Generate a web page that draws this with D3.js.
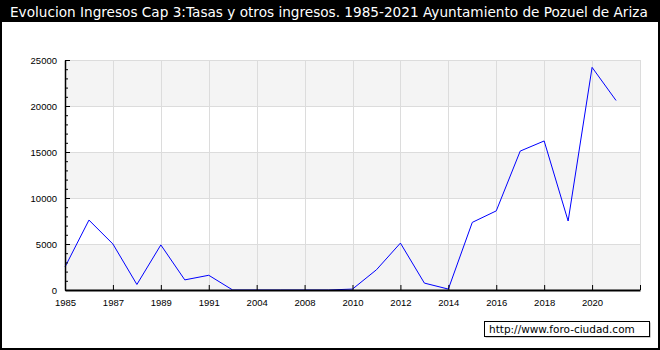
<!DOCTYPE html>
<html lang="es">
  <head>
    <meta charset="utf-8" />
    <title>Evolucion Ingresos Cap 3 - Pozuel de Ariza</title>
    <script src="https://d3js.org/d3.v7.min.js"></script>
    <style>
      body {
        margin: 0;
        background: #fff;
      }
      svg {
        display: block;
        font-family: "DejaVu Sans", Verdana, sans-serif;
      }
      .tick text {
        font-size: 9.5px;
        fill: #000;
      }
    </style>
  </head>
  <body>
    <svg id="chart" width="660" height="350"></svg>
    <script>
      // datos: ingresos capitulo 3 por año (euros)
      const years = [
        "1985", "1986", "1987", "1988", "1989", "1990", "1991", "1992",
        "2004", "2006", "2008", "2009", "2010", "2011", "2012", "2013",
        "2014", "2015", "2016", "2017", "2018", "2019", "2020", "2021",
      ];
      const values = [
        2500, 7600, 5000, 600, 4900, 1100, 1600, 0,
        0, 0, 0, 0, 100, 2200, 5100, 750,
        100, 7350, 8600, 15100, 16200, 7500, 24200, 20600,
      ];
      const yTicks = [0, 5000, 10000, 15000, 20000, 25000];

      const svg = d3.select("#chart"),
        width = +svg.attr("width"),
        height = +svg.attr("height");

      const plot = { left: 65, right: 640, top: 60, bottom: 290 };

      // una posicion vacia extra al final, como en el original
      const x = d3
        .scaleLinear()
        .domain([0, years.length])
        .range([plot.left, plot.right]);
      const y = d3
        .scaleLinear()
        .domain([0, 25000])
        .range([plot.bottom, plot.top]);

      // marco exterior
      svg
        .append("rect")
        .attr("x", 1)
        .attr("y", 1)
        .attr("width", width - 2)
        .attr("height", height - 2)
        .attr("fill", "#fff")
        .attr("stroke", "#000")
        .attr("stroke-width", 2);

      // banda del titulo
      svg
        .append("rect")
        .attr("x", 0)
        .attr("y", 0)
        .attr("width", width)
        .attr("height", 22)
        .attr("fill", "#000");
      const title = svg
        .append("text")
        .attr("x", 10)
        .attr("y", 17)
        .attr("fill", "#fff")
        .attr("font-size", 14)
        .text(
          "Evolucion Ingresos Cap 3:Tasas y otros ingresos. 1985-2021 Ayuntamiento de Pozuel de Ariza"
        );
      // ajustar el tamaño para que ocupe el ancho disponible
      const tw = title.node().getComputedTextLength();
      title.attr("font-size", Math.min(15, (14 * 638) / tw));

      // bandas alternas de fondo
      svg
        .append("g")
        .selectAll("rect")
        .data(d3.pairs(yTicks))
        .join("rect")
        .attr("x", plot.left)
        .attr("width", plot.right - plot.left)
        .attr("y", (d) => y(d[1]))
        .attr("height", (d) => y(d[0]) - y(d[1]))
        .attr("fill", (d, i) => (i % 2 === 0 ? "#f4f4f4" : "#fff"));

      // rejilla
      const xTickIdx = d3.range(0, years.length + 1, 2);
      const grid = svg.append("g").attr("stroke", "#dcdcdc").attr("stroke-width", 1);
      grid
        .selectAll("line.h")
        .data(yTicks.slice(1))
        .join("line")
        .attr("class", "h")
        .attr("x1", plot.left)
        .attr("x2", plot.right)
        .attr("y1", (d) => Math.round(y(d)) + 0.5)
        .attr("y2", (d) => Math.round(y(d)) + 0.5);
      grid
        .selectAll("line.v")
        .data(xTickIdx.slice(1))
        .join("line")
        .attr("class", "v")
        .attr("x1", (d) => Math.round(x(d)) + 0.5)
        .attr("x2", (d) => Math.round(x(d)) + 0.5)
        .attr("y1", plot.top)
        .attr("y2", plot.bottom);

      // linea de datos
      const line = d3
        .line()
        .x((d, i) => x(i))
        .y((d) => y(d));
      svg
        .append("path")
        .datum(values)
        .attr("d", line)
        .attr("fill", "none")
        .attr("stroke", "#0000ff")
        .attr("stroke-width", 1);

      // eje Y con marcas menores cada 1000
      svg
        .append("g")
        .attr("transform", `translate(${plot.left},0)`)
        .call(
          d3
            .axisRight(y)
            .tickValues(d3.range(0, 25001, 1000).filter((v) => v % 5000 !== 0))
            .tickSize(3)
            .tickFormat("")
        )
        .call((g) => g.select(".domain").remove());
      const yAxis = svg
        .append("g")
        .attr("transform", `translate(${plot.left},0)`)
        .call(
          d3
            .axisLeft(y)
            .tickValues(yTicks)
            .tickSize(0)
            .tickPadding(8)
            .tickFormat((d) => d)
        );
      yAxis.select(".domain").attr("stroke-width", 1.5);
      yAxis
        .selectAll(".tick line")
        .attr("x2", 5)
        .attr("stroke", "#000");

      // eje X
      const xAxis = svg
        .append("g")
        .attr("transform", `translate(0,${plot.bottom})`)
        .call(
          d3
            .axisBottom(x)
            .tickValues(xTickIdx)
            .tickSize(0)
            .tickPadding(9)
            .tickFormat((i) => years[i] || "")
        );
      xAxis.select(".domain").attr("stroke-width", 2);
      xAxis
        .selectAll(".tick line")
        .attr("y2", -5)
        .attr("stroke", "#000");

      // credito
      const credit = svg.append("g").attr("transform", "translate(484,321)");
      credit
        .append("rect")
        .attr("x", 1.5)
        .attr("y", 1.5)
        .attr("width", 165)
        .attr("height", 15)
        .attr("fill", "#999");
      credit
        .append("rect")
        .attr("x", 0.5)
        .attr("y", 0.5)
        .attr("width", 165)
        .attr("height", 15)
        .attr("fill", "#fff")
        .attr("stroke", "#000");
      credit
        .append("text")
        .attr("x", 5)
        .attr("y", 12)
        .attr("font-size", 10.5)
        .text("http://www.foro-ciudad.com");
    </script>
  </body>
</html>
